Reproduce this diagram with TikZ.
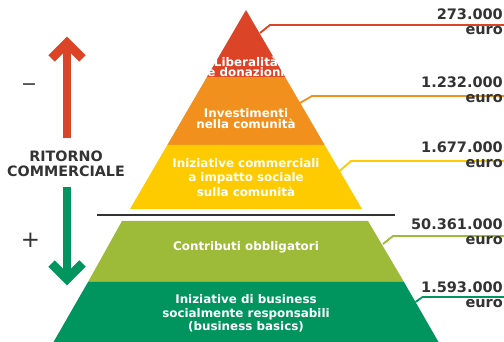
\documentclass[tikz,border=0pt]{standalone}
\usepackage{fontspec}
\setmainfont{DejaVu Sans}
\definecolor{rosso}{HTML}{DC4428}
\definecolor{arancio}{HTML}{F1901C}
\definecolor{giallo}{HTML}{FDCB00}
\definecolor{verdechiaro}{HTML}{9DBA38}
\definecolor{verdescuro}{HTML}{00955F}
\definecolor{grigio}{HTML}{333333}
\begin{document}
\begin{tikzpicture}[x=1pt, y=-1pt, line join=miter,
	etichetta/.style={text=white, align=center, inner sep=0pt, font=\bfseries\fontsize{11.9}{11}\selectfont},
	valore/.style={anchor=north east, align=right, inner sep=0pt, text=grigio, font=\bfseries\fontsize{14.5}{15}\selectfont},
	guida/.style={line width=1.8pt}]
	\useasboundingbox (0,0) rectangle (504,342);
	\coordinate (margine) at (504,0);
	% piramide superiore
	\fill[rosso] (246,10) -- (285.1,77) -- (206.9,77) -- cycle;
	\fill[arancio] (206.9,77) -- (285.1,77) -- (324.7,145) -- (167.3,145) -- cycle;
	\fill[giallo] (167.3,145) -- (324.7,145) -- (362,209) -- (130,209) -- cycle;
	\draw[grigio, line width=2.5pt] (97,215) -- (395,215);
	% base
	\fill[verdechiaro] (122,221) -- (368,221) -- (404,282) -- (88,282) -- cycle;
	\fill[verdescuro] (88,282) -- (404,282) -- (438.5,342) -- (53.5,342) -- cycle;
	
	\node[etichetta, font=\bfseries\fontsize{11.9}{10.5}\selectfont] (liberalita) at (246,67) {Liberalità\\e donazioni};
	\node[etichetta] (investimenti) at (246,118.5) {Investimenti\\nella comunità};
	\node[etichetta, font=\bfseries\fontsize{11.9}{14.5}\selectfont] (commerciali) at (246,177.5) {Iniziative commerciali\\a impatto sociale\\sulla comunità};
	\node[etichetta] (obbligatori) at (246,247) {Contributi obbligatori};
	\node[etichetta, font=\bfseries\fontsize{11.9}{13.5}\selectfont] (basics) at (246,313.5) {Iniziative di business\\socialmente responsabili\\(business basics)};
	
	% linee di richiamo e importi
	\coordinate (bordo-r) at (260,33);
	\coordinate (bordo-a) at (300,103);
	\coordinate (bordo-g) at (339.5,171);
	\coordinate (bordo-vc) at (383,244);
	\coordinate (bordo-vs) at (415.5,302);
	\draw[guida, rosso] (bordo-r) -- ++(10,-8) coordinate (k-r) -- (k-r -| margine);
	\draw[guida, arancio] (bordo-a) -- ++(12,-7) coordinate (k-a) -- (k-a -| margine);
	\draw[guida, giallo] (bordo-g) -- ++(11.5,-10) coordinate (k-g) -- (k-g -| margine);
	\draw[guida, verdechiaro] (bordo-vc) -- ++(10,-8) coordinate (k-vc) -- (k-vc -| margine);
	\draw[guida, verdescuro] (bordo-vs) -- ++(7,-5) coordinate (k-vs) -- (k-vs -| margine);
	\node[valore] (v-r) at (503,8.5) {273.000\\euro};
	\node[valore] (v-a) at (503,77) {1.232.000\\euro};
	\node[valore] (v-g) at (503,142) {1.677.000\\euro};
	\node[valore] (v-vc) at (503,218.5) {50.361.000\\euro};
	\node[valore] (v-vs) at (503,281.5) {1.593.000\\euro};
	
	% ritorno commerciale
	\node[text=grigio, align=center, inner sep=0pt, font=\bfseries\fontsize{14.3}{15.5}\selectfont] (ritorno) at (66,164) {RITORNO\\COMMERCIALE};
	\coordinate (punta-su) at (67,43);
	\coordinate (punta-giu) at (67,279);
	\path (ritorno.north -| punta-su) ++(0,-13) coordinate (base-su);
	\path (ritorno.south -| punta-giu) ++(0,10) coordinate (base-giu);
	\draw[rosso, line width=8pt] (base-su) -- (punta-su);
	\draw[rosso, line width=9pt] (punta-su) ++(-15.5,15.5) -- (punta-su) -- ++(15.5,15.5);
	\draw[verdescuro, line width=8pt] (base-giu) -- (punta-giu);
	\draw[verdescuro, line width=9pt] (punta-giu) ++(-15.5,-15.5) -- (punta-giu) -- ++(15.5,-15.5);
	\node[text=grigio, inner sep=0pt, font=\fontsize{19}{19}\selectfont] (meno) at (29,87) {−};
	\node[text=grigio, inner sep=0pt, font=\fontsize{23}{23}\selectfont] (piu) at (30.5,240) {+};
\end{tikzpicture}
\end{document}
